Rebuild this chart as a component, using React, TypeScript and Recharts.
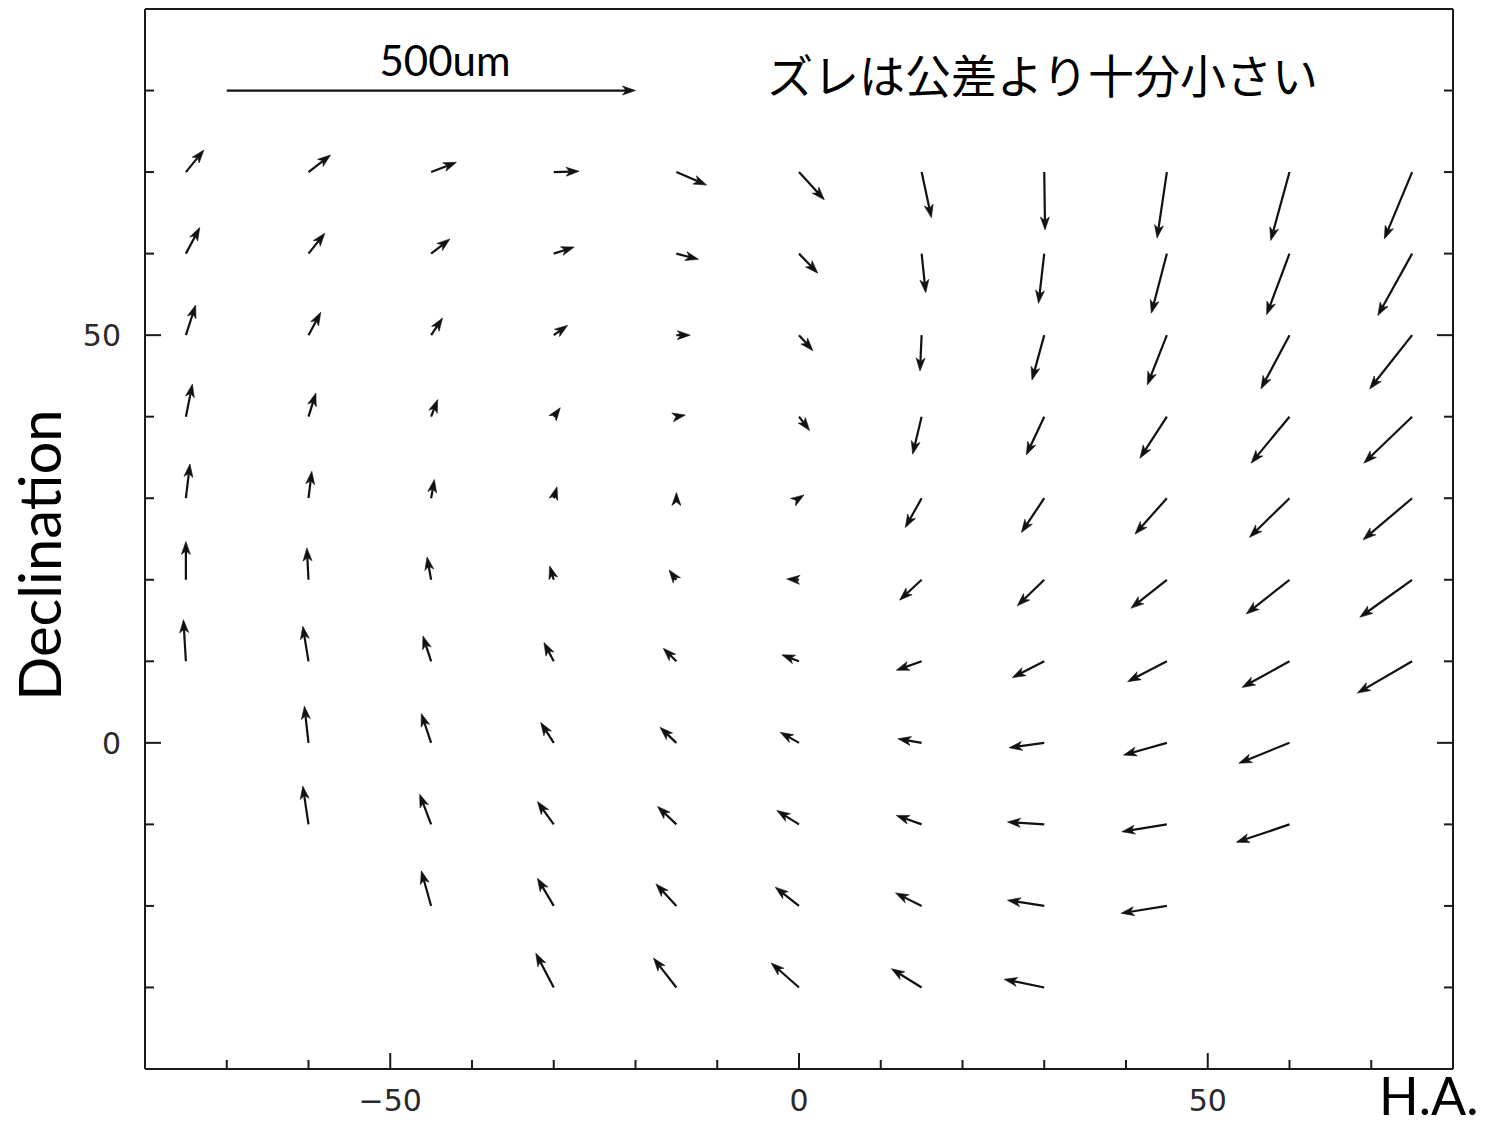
import React from 'react';
import { ScatterChart, Scatter, XAxis, YAxis, ReferenceLine } from 'recharts';

// Grid of measurement points (hour angle columns, declination rows)
const HA_COLUMNS = [-75, -60, -45, -30, -15, 0, 15, 30, 45, 60, 75];
const DEC_ROWS = [70, 60, 50, 40, 30, 20, 10, 0, -10, -20, -30];

// Measured displacement (um) per column (outer) and row (inner, top to bottom); null = no point
const DX_UM: (number | null)[][] = [
  [22, 17, 12, 8, 5, 0, -3, null, null, null, null],
  [27, 20, 15, 9, 4, -2, -7, -5, -7, null, null],
  [31, 23, 14, 8, 4, -5, -10, -12, -14, -12, null],
  [31, 25, 17, 8, 4, -5, -12, -16, -20, -20, -22],
  [37, 27, 17, 11, 0, -9, -16, -20, -23, -25, -28],
  [31, 23, 17, 13, 6, -15, -21, -23, -27, -29, -34],
  [12, 5, -2, -11, -20, -27, -31, -29, -31, -32, -37],
  [1, -7, -15, -22, -28, -33, -39, -43, -45, -45, -49],
  [-12, -19, -24, -33, -39, -44, -48, -53, -55, -56, null],
  [-23, -28, -35, -47, -49, -53, -58, -62, -65, null, null],
  [-34, -42, -52, -59, -60, -64, -67, null, null, null, null],
];
const DY_UM: (number | null)[][] = [
  [27, 32, 37, 40, 42, 47, 51, null, null, null, null],
  [21, 25, 28, 29, 33, 39, 43, 45, 47, null, null],
  [12, 18, 21, 21, 23, 28, 31, 36, 37, 43, null],
  [1, 8, 12, 11, 14, 17, 23, 25, 28, 34, 42],
  [-16, -7, 0, 2, 7, 12, 16, 19, 22, 27, 36],
  [-34, -24, -19, -17, 4, 1, 8, 13, 17, 23, 30],
  [-56, -48, -44, -46, -36, -25, -11, 5, 11, 16, 23],
  [-71, -61, -55, -47, -42, -32, -20, -6, 3, 7, 10],
  [-81, -73, -61, -51, -44, -35, -25, -15, -9, -9, null],
  [-84, -75, -66, -57, -48, -42, -32, -25, -22, null, null],
  [-82, -76, -66, -57, -51, -46, -39, null, null, null, null],
];

// Arrow magnification: axis units per um (500 um bar spans 50 axis units)
const UM_TO_AXIS = 0.1;
const SCALE_BAR_UM = 500;
const SCALE_BAR_HA = -70;
const SCALE_BAR_DEC = 80;

const X_DOMAIN = [-80, 80];
const Y_DOMAIN = [-40, 90];
const X_TICKS = [-70, -60, -50, -40, -30, -20, -10, 0, 10, 20, 30, 40, 50, 60, 70];
const Y_TICKS = [-30, -20, -10, 0, 10, 20, 30, 40, 50, 60, 70, 80];
const LABELED_EVERY = 50;

const TITLE_TEXT = 'ズレは公差より十分小さい';
const SCALE_TEXT = '500um';
const X_LABEL = 'H.A.';
const Y_LABEL = 'Declination';

type Arrow = { ha: number; dec: number; ha2: number; dec2: number };
const ARROWS: Arrow[] = [];
HA_COLUMNS.forEach((ha, i) => {
  DEC_ROWS.forEach((dec, j) => {
    const dx = DX_UM[i][j];
    const dy = DY_UM[i][j];
    if (dx == null || dy == null) return;
    ARROWS.push({ ha, dec, ha2: ha + dx * UM_TO_AXIS, dec2: dec + dy * UM_TO_AXIS });
  });
});
const TAILS = ARROWS.map((a) => ({ x: a.ha, y: a.dec }));

const INK = '#111';
const FRAME = '#1a1a1a';
const TICK_FONT = 'DejaVu Sans, sans-serif';
const LABEL_FONT = 'Lato, "Open Sans", sans-serif';

const fmt = (v: number) => String(v).replace('-', '\u2212');
const tickLen = (v: number) => (v % LABELED_EVERY === 0 ? 16 : 9);
const isMajor = (v: number) => v % LABELED_EVERY === 0;

const ArrowShape = (props: any) => {
  const { x1, y1, x2, y2 } = props;
  const dx = x2 - x1;
  const dy = y2 - y1;
  const len = Math.hypot(dx, dy) || 1;
  const ux = dx / len;
  const uy = dy / len;
  const nx = -uy;
  const ny = ux;
  const H = 13;
  const W = 4.5;
  const N = 9.5;
  const bx = x2 - ux * H;
  const by = y2 - uy * H;
  const kx = x2 - ux * N;
  const ky = y2 - uy * N;
  const pts = `${x2},${y2} ${bx + nx * W},${by + ny * W} ${kx},${ky} ${bx - nx * W},${by - ny * W}`;
  return (
    <g>
      {len > N && <line x1={x1} y1={y1} x2={kx} y2={ky} stroke={INK} strokeWidth={2.2} />}
      <polygon points={pts} fill={INK} stroke={INK} strokeWidth={0.6} strokeLinejoin="miter" />
    </g>
  );
};

const BottomTick = (p: any) => {
  const { x, y, payload } = p;
  const v = payload.value;
  return (
    <g>
      <line x1={x} y1={y} x2={x} y2={y - tickLen(v)} stroke={FRAME} strokeWidth={2} />
      {isMajor(v) && (
        <text x={x} y={y + 42} textAnchor="middle" fontFamily={TICK_FONT} fontSize={30} fill="#2a2a2a">
          {fmt(v)}
        </text>
      )}
    </g>
  );
};
const TopTick = (p: any) => {
  const { x, y, payload } = p;
  const v = payload.value;
  return <line x1={x} y1={y} x2={x} y2={y + tickLen(v)} stroke={FRAME} strokeWidth={2} />;
};
const LeftTick = (p: any) => {
  const { x, y, payload } = p;
  const v = payload.value;
  return (
    <g>
      <line x1={x} y1={y} x2={x + tickLen(v)} y2={y} stroke={FRAME} strokeWidth={2} />
      {isMajor(v) && (
        <text x={x - 24} y={y + 11} textAnchor="end" fontFamily={TICK_FONT} fontSize={30} fill="#2a2a2a">
          {fmt(v)}
        </text>
      )}
    </g>
  );
};
const RightTick = (p: any) => {
  const { x, y, payload } = p;
  const v = payload.value;
  return <line x1={x} y1={y} x2={x - tickLen(v)} y2={y} stroke={FRAME} strokeWidth={2} />;
};

const axisLineStyle = { stroke: FRAME, strokeWidth: 2 };

export default function App() {
  return (
    <div style={{ position: 'absolute', left: 0, top: 0, width: 1490, height: 1127, background: '#fff' }}>
      <ScatterChart width={1490} height={1127} margin={{ top: 9, right: 37, bottom: 8, left: 85 }}>
        <XAxis
          xAxisId={0}
          type="number"
          dataKey="x"
          domain={X_DOMAIN}
          allowDataOverflow
          ticks={X_TICKS}
          interval={0}
          orientation="bottom"
          height={50}
          tickSize={0}
          tickMargin={0}
          tickLine={false}
          axisLine={axisLineStyle}
          tick={BottomTick}
        />
        <XAxis
          xAxisId="top"
          type="number"
          domain={X_DOMAIN}
          allowDataOverflow
          ticks={X_TICKS}
          interval={0}
          orientation="top"
          mirror
          height={1}
          tickSize={0}
          tickMargin={0}
          tickLine={false}
          axisLine={axisLineStyle}
          tick={TopTick}
        />
        <YAxis
          yAxisId={0}
          type="number"
          dataKey="y"
          domain={Y_DOMAIN}
          allowDataOverflow
          ticks={Y_TICKS}
          interval={0}
          orientation="left"
          width={60}
          tickSize={0}
          tickMargin={0}
          tickLine={false}
          axisLine={axisLineStyle}
          tick={LeftTick}
        />
        <YAxis
          yAxisId="right"
          type="number"
          domain={Y_DOMAIN}
          allowDataOverflow
          ticks={Y_TICKS}
          interval={0}
          orientation="right"
          mirror
          width={1}
          tickSize={0}
          tickMargin={0}
          tickLine={false}
          axisLine={axisLineStyle}
          tick={RightTick}
        />
        <Scatter data={TAILS} isAnimationActive={false} shape={() => <g />} />
        {ARROWS.map((a, i) => (
          <ReferenceLine
            key={`a${i}`}
            segment={[
              { x: a.ha, y: a.dec },
              { x: a.ha2, y: a.dec2 },
            ]}
            shape={ArrowShape}
          />
        ))}
        <ReferenceLine
          segment={[
            { x: SCALE_BAR_HA, y: SCALE_BAR_DEC },
            { x: SCALE_BAR_HA + SCALE_BAR_UM * UM_TO_AXIS, y: SCALE_BAR_DEC },
          ]}
          shape={ArrowShape}
        />
        <text x={445} y={76} textAnchor="middle" fontFamily={LABEL_FONT} fontSize={42} fill="#000">
          {SCALE_TEXT}
        </text>
        <text x={767} y={93} textAnchor="start" fontFamily='"Noto Sans CJK JP", sans-serif' fontSize={46} fill="#000">
          {TITLE_TEXT}
        </text>
        <text
          x={61}
          y={555}
          transform="rotate(-90, 61, 555)"
          textAnchor="middle"
          fontFamily={LABEL_FONT}
          fontSize={58}
          fill="#000"
        >
          {Y_LABEL}
        </text>
        <text x={1379} y={1115} textAnchor="start" fontFamily={LABEL_FONT} fontSize={52} fill="#000">
          {X_LABEL}
        </text>
      </ScatterChart>
    </div>
  );
}
